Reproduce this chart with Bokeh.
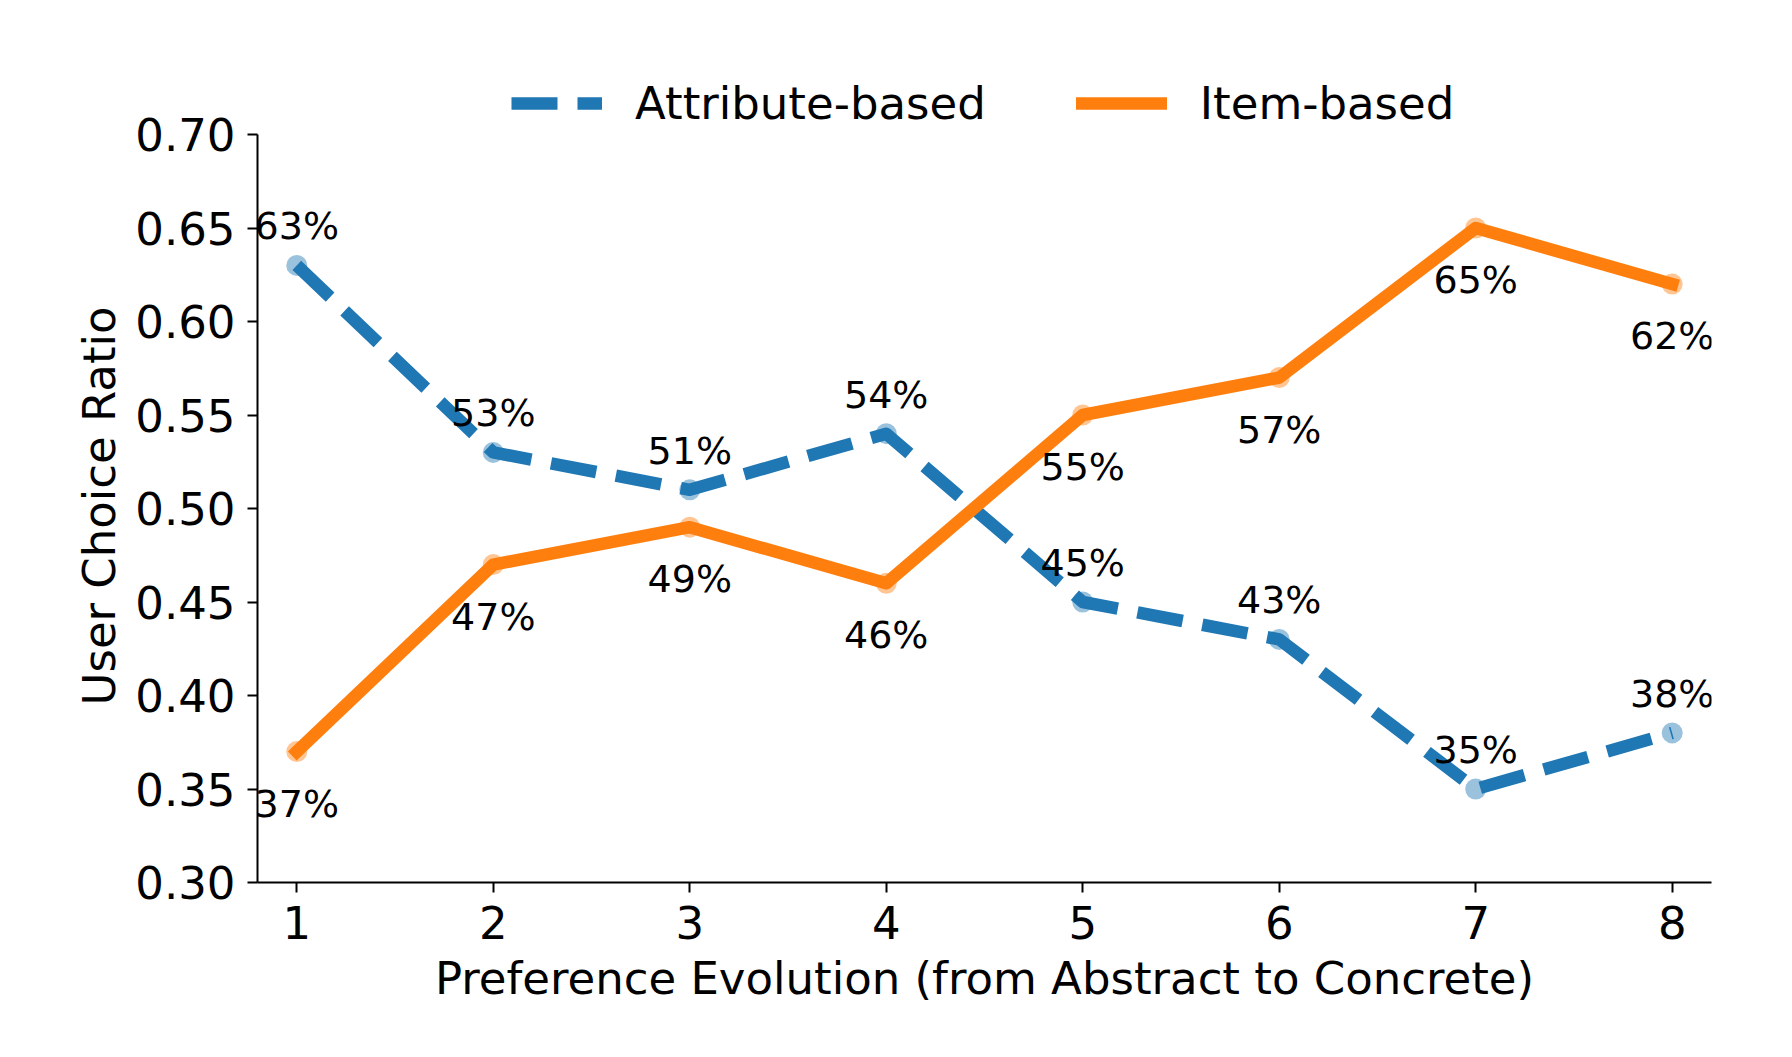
from bokeh.plotting import figure
from bokeh.models import (ColumnDataSource, Legend, LegendItem, FixedTicker,
                          NumeralTickFormatter, Range1d, LabelSet, Title)
from bokeh.core.properties import value
from bokeh.embed import file_html
from bokeh.resources import INLINE

# ---- data ----
stages = [1, 2, 3, 4, 5, 6, 7, 8]
attribute_based = [0.63, 0.53, 0.51, 0.54, 0.45, 0.43, 0.35, 0.38]
item_based = [0.37, 0.47, 0.49, 0.46, 0.55, 0.57, 0.65, 0.62]
series_names = ["Attribute-based", "Item-based"]
y_ticks = [0.30, 0.35, 0.40, 0.45, 0.50, 0.55, 0.60, 0.65, 0.70]
x_label = "Preference Evolution (from Abstract to Concrete)"
y_label = "User Choice Ratio"

BLUE = "#1f77b4"
ORANGE = "#ff7f0e"
FONT = "DejaVu Sans"

# frame extends above 0.70 to hold the legend; axis is bounded to 0.30-0.70
Y_MIN, Y_MAX = 0.30, 0.70
px_per_unit = (882 - 134) / (Y_MAX - Y_MIN)
TOP_BORDER = 20
y_end = Y_MAX + (134 - TOP_BORDER) / px_per_unit

src_a = ColumnDataSource(dict(x=stages, y=attribute_based,
                              lab=[f"{round(v * 100)}%" for v in attribute_based]))
src_i = ColumnDataSource(dict(x=stages, y=item_based,
                              lab=[f"{round(v * 100)}%" for v in item_based]))

p = figure(width=1792, height=1057,
           x_range=Range1d(0.8, 8.2), y_range=Range1d(Y_MIN, y_end),
           output_backend="svg", toolbar_location=None,
           min_border_left=257, min_border_right=81,
           min_border_top=TOP_BORDER, min_border_bottom=175)
p.background_fill_color = "white"
p.border_fill_color = "white"
p.outline_line_color = None
p.xgrid.visible = False
p.ygrid.visible = False

# markers (semi-transparent) beneath the lines
p.scatter("x", "y", source=src_a, size=21, color=BLUE, alpha=0.45, line_color=None)
p.scatter("x", "y", source=src_i, size=21, color=ORANGE, alpha=0.45, line_color=None)

l1 = p.line("x", "y", source=src_a, line_color=BLUE, line_width=12.5,
            line_dash="46 20", line_join="round", line_cap="butt")
l2 = p.line("x", "y", source=src_i, line_color=ORANGE, line_width=12.5,
            line_join="round", line_cap="square")

# value labels
la = LabelSet(x="x", y="y", text="lab", source=src_a, text_align="center",
              text_baseline="middle", y_offset=39, text_font=value(FONT),
              text_font_size="38px", text_color="black")
li = LabelSet(x="x", y="y", text="lab", source=src_i, text_align="center",
              text_baseline="middle", y_offset=-52, text_font=value(FONT),
              text_font_size="38px", text_color="black")
p.add_layout(la)
p.add_layout(li)

# axes
for ax in (p.xaxis[0], p.yaxis[0]):
    ax.axis_line_color = "black"
    ax.axis_line_width = 2
    ax.major_tick_line_color = "black"
    ax.major_tick_line_width = 2
    ax.major_tick_out = 10
    ax.major_tick_in = 0
    ax.minor_tick_line_color = None
    ax.major_label_text_font = FONT
    ax.major_label_text_font_size = "45px"
    ax.major_label_text_color = "black"
    ax.axis_label_text_font = FONT
    ax.axis_label_text_font_size = "45px"
    ax.axis_label_text_font_style = "normal"
    ax.axis_label_text_color = "black"

p.xaxis.ticker = FixedTicker(ticks=stages)
p.yaxis.ticker = FixedTicker(ticks=y_ticks)
p.yaxis.bounds = (Y_MIN, Y_MAX)
p.yaxis.formatter = NumeralTickFormatter(format="0.00")
p.xaxis.axis_label = x_label
p.xaxis.major_label_standoff = 13
p.yaxis.major_label_standoff = 12
p.xaxis.axis_label_standoff = 10

# y-axis title, centred on the 0.30-0.70 span of the axis
ytitle = Title(text=y_label, align="left", offset=177, standoff=13,
               text_font=FONT, text_font_size="45px", text_font_style="normal",
               text_color="black")
p.add_layout(ytitle, "left")

legend = Legend(items=[LegendItem(label=series_names[0], renderers=[l1]),
                       LegendItem(label=series_names[1], renderers=[l2])],
                orientation="horizontal", location=(254, 752),
                padding=0, margin=0, spacing=90,
                glyph_width=91, glyph_height=54, label_height=54,
                label_standoff=33,
                label_text_font=FONT, label_text_font_size="45px",
                label_text_color="black",
                border_line_color=None, background_fill_alpha=0)
p.add_layout(legend)

open("out.html", "w").write(file_html(p, INLINE))
